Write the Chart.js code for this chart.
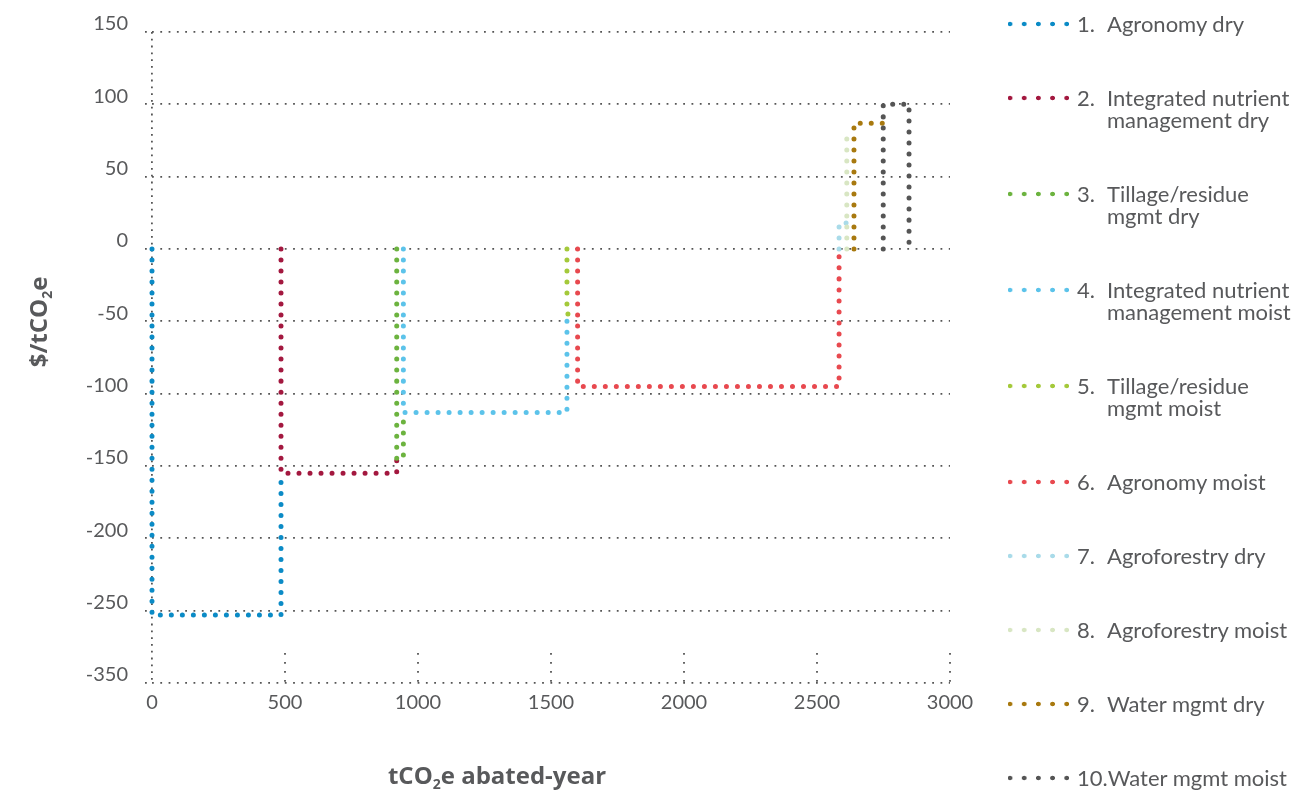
<!DOCTYPE html>
<html>
<head>
<meta charset="utf-8">
<script src="https://cdn.jsdelivr.net/npm/chart.js@4.4.1/dist/chart.umd.min.js"></script>
<style>
  body { margin: 0; background: #fff; font-family: Lato, "Open Sans", sans-serif; }
  #wrap { position: relative; width: 1309px; height: 793px; }
  #legend { position: absolute; left: 1008px; top: 13px; color: #58595b; font-size: 22px; line-height: 22px; }
  .item { display: flex; align-items: flex-start; margin-bottom: 52px; }
  .sample { width: 61px; height: 6px; margin-top: 8px; margin-right: 8px; background-size: 14.2px 6px; background-position: -5.1px 0; background-repeat: repeat-x; }
  .num { min-width: 30px; white-space: nowrap; }
</style>
</head>
<body>
<div id="wrap">
  <canvas id="maccChart"></canvas>
  <div id="legend"></div>
</div>
<script>
const measureNames = [
  'Agronomy dry',
  'Integrated nutrient\nmanagement dry',
  'Tillage/residue\nmgmt dry',
  'Integrated nutrient\nmanagement moist',
  'Tillage/residue\nmgmt moist',
  'Agronomy moist',
  'Agroforestry dry',
  'Agroforestry moist',
  'Water mgmt dry',
  'Water mgmt moist'
];
const abatementStart = [0, 485, 920, 945, 1560, 1600, 2583, 2612, 2639, 2749];
const abatementEnd = [485, 920, 945, 1560, 1600, 2583, 2612, 2639, 2749, 2846];
const costPerTonne = [-253, -155, -145, -113, -45, -95, 18, 77, 87, 100];

const xTickValues = [0, 500, 1000, 1500, 2000, 2500, 3000];
const yTickValues = [150, 100, 50, 0, -50, -100, -150, -200, -250, -300];
const yTickLabels = ['150', '100', '50', '0', '-50', '-100', '-150', '-200', '-250', '-350'];

const measureColors = ['#0b8bc6', '#a3183f', '#6cb33f', '#5cc3ea', '#a4c93a', '#e8494f', '#a9dbe9', '#d8e6c3', '#a8790f', '#555555'];
const textColor = '#58595b';
const gridColor = '#555';

// each measure is a step: up its left side, across at its cost, and down its
// right side only as far as the next step does not already cover it
const datasets = measureNames.map((name, i) => {
  const cost = costPerTonne[i];
  const next = costPerTonne[i + 1];
  let sideEnd = 0;
  if (next !== undefined && Math.sign(next) === Math.sign(cost)) {
    sideEnd = Math.abs(next) < Math.abs(cost) ? next : cost;
  }
  return {
    label: name.replace('\n', ' '),
    data: [
      { x: abatementStart[i], y: 0 },
      { x: abatementStart[i], y: cost },
      { x: abatementEnd[i], y: cost },
      { x: abatementEnd[i], y: sideEnd }
    ],
    showLine: true,
    borderColor: measureColors[i],
    backgroundColor: measureColors[i],
    borderWidth: 5,
    borderDash: [0.01, 11],
    borderCapStyle: 'round',
    borderJoinStyle: 'round',
    pointRadius: 0,
    pointHoverRadius: 0,
    tension: 0,
    fill: false,
    clip: false,
    order: -i
  };
});

function drawSubText(ctx, parts, cx, cy) {
  const big = 'bold 24px "Open Sans", Lato, sans-serif';
  const small = 'bold 14px "Open Sans", Lato, sans-serif';
  let total = 0;
  parts.forEach(p => { ctx.font = p.sub ? small : big; total += ctx.measureText(p.t).width; });
  let x = cx - total / 2;
  parts.forEach(p => {
    ctx.font = p.sub ? small : big;
    ctx.fillText(p.t, x, cy + (p.sub ? 8 : 0));
    x += ctx.measureText(p.t).width;
  });
}

const axisExtras = {
  id: 'axisExtras',
  beforeDatasetsDraw(chart) {
    const ctx = chart.ctx;
    const xs = chart.scales.x;
    const bottom = chart.chartArea.bottom;
    ctx.save();
    ctx.strokeStyle = gridColor;
    ctx.lineWidth = 1.8;
    ctx.setLineDash([1.8, 7.2]);
    xTickValues.slice(1).forEach(v => {
      const px = xs.getPixelForValue(v);
      ctx.beginPath();
      ctx.moveTo(px, bottom - 30);
      ctx.lineTo(px, bottom + 1);
      ctx.stroke();
    });
    ctx.restore();
  },
  afterDraw(chart) {
    const ctx = chart.ctx;
    ctx.save();
    ctx.fillStyle = textColor;
    ctx.textAlign = 'left';
    ctx.textBaseline = 'middle';
    drawSubText(ctx, [{ t: 'tCO' }, { t: '2', sub: true }, { t: 'e abated-year' }], 497, 777);
    ctx.translate(40, 322);
    ctx.rotate(-Math.PI / 2);
    drawSubText(ctx, [{ t: '$/tCO' }, { t: '2', sub: true }, { t: 'e' }], 0, 0);
    ctx.restore();
  }
};

const maccChart = new Chart(document.getElementById('maccChart').getContext('2d'), {
  type: 'scatter',
  data: { datasets: datasets },
  plugins: [axisExtras],
  options: {
    responsive: true,
    maintainAspectRatio: false,
    animation: false,
    layout: { padding: { top: 32, right: 359, bottom: 0, left: 0 } },
    plugins: {
      legend: { display: false },
      tooltip: { enabled: false }
    },
    scales: {
      x: {
        type: 'linear',
        min: 0,
        max: 3000,
        afterBuildTicks: scale => { scale.ticks = xTickValues.map(v => ({ value: v })); },
        afterFit: scale => { scale.height = 110; },
        ticks: {
          color: textColor,
          font: { family: 'Lato', size: 20 },
          padding: 8,
          maxRotation: 0,
          callback: v => String(v)
        },
        grid: {
          color: c => (c.tick && c.tick.value === 0 ? gridColor : 'rgba(0,0,0,0)'),
          lineWidth: 1.8,
          drawTicks: false
        },
        border: { display: false, dash: [1.8, 5] }
      },
      y: {
        type: 'linear',
        min: -300,
        max: 150,
        afterBuildTicks: scale => { scale.ticks = yTickValues.map(v => ({ value: v })); },
        afterFit: scale => { scale.width = 152; },
        ticks: {
          color: textColor,
          font: { family: 'Lato', size: 20 },
          padding: 17,
          labelOffset: -8,
          callback: v => yTickLabels[yTickValues.indexOf(v)]
        },
        grid: {
          color: gridColor,
          lineWidth: 1.8,
          drawTicks: true,
          tickLength: 7,
          tickColor: gridColor,
          tickWidth: 1.8,
          tickBorderDash: [1.8, 6.5]
        },
        border: { display: false, dash: [1.8, 6.5] }
      }
    }
  }
});

// legend built from the same names and colours
const legendEl = document.getElementById('legend');
measureNames.forEach((name, i) => {
  const item = document.createElement('div');
  item.className = 'item';
  const color = measureColors[i];
  item.innerHTML = `
    <span class="sample" style="background-image: radial-gradient(circle, ${color} 0, ${color} 2.1px, rgba(255,255,255,0) 2.6px);"></span>
    <span class="num">${i + 1}.</span>
    <span class="text">${name.split('\n').join('<br>')}</span>
  `;
  legendEl.appendChild(item);
});
</script>
</body>
</html>
